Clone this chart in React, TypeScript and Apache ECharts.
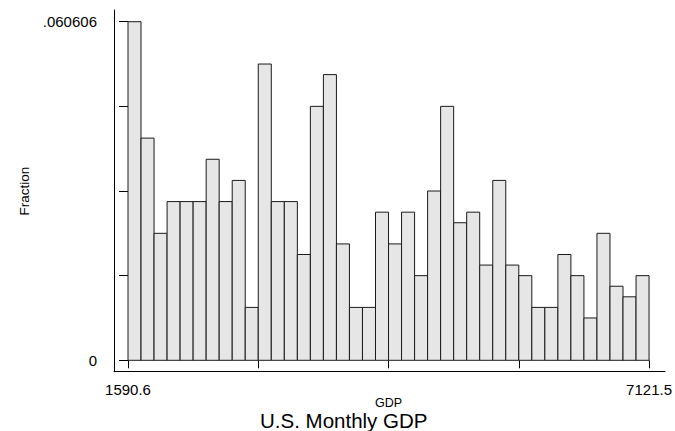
import React, { useEffect, useRef } from "react";
import * as echarts from "echarts";

// Histogram of U.S. monthly GDP: 40 equal-width bins between the endpoints
const binCounts: number[] = [
  32, 21, 12, 15, 15, 15, 19, 15, 17, 5,
  28, 15, 15, 10, 24, 27, 11, 5, 5, 14,
  11, 14, 8, 16, 24, 13, 14, 9, 17, 9,
  8, 5, 5, 10, 8, 4, 12, 7, 6, 8,
];
const totalObs = 528;
const xTickLabels: string[] = ["1590.6", "", "", "", "7121.5"];
const yTickLabels: string[] = ["0", "", "", "", ".060606"];
const titleText = "U.S. Monthly GDP";
const xName = "GDP";
const yName = "Fraction";

const FONT = "'Liberation Sans', Arial, Helvetica, sans-serif";

export default function App() {
  const ref = useRef<HTMLDivElement>(null);
  useEffect(() => {
    if (!ref.current) return;
    const chart = echarts.init(ref.current, undefined, { renderer: "svg" });
    const fractions = binCounts.map((c) => c / totalObs);
    const yMax = Math.max(...binCounts) / totalObs;
    const yInterval = yMax / 4;
    const nBins = binCounts.length;
    const data = fractions.map((f, i) => [i, f]);

    const option: any = {
      animation: false,
      backgroundColor: "#ffffff",
      title: {
        text: titleText,
        left: 260,
        top: 410.5,
        padding: 0,
        textStyle: { fontFamily: FONT, fontSize: 20.5, lineHeight: 19, fontWeight: "normal", color: "#000" },
      },
      grid: [
        { left: 128, right: 23, top: 21.7, bottom: 70.7 },
        { left: 114, right: 10, top: 10, bottom: 59.3 },
      ],
      xAxis: [
        {
          type: "value",
          gridIndex: 0,
          min: 0,
          max: nBins,
          interval: nBins / 4,
          offset: 11.4,
          axisLine: { show: false },
          axisTick: { show: true, length: 8, lineStyle: { color: "#000", width: 1 } },
          splitLine: { show: false },
          axisLabel: {
            margin: 10,
            fontFamily: FONT,
            fontSize: 15,
            color: "#000",
            formatter: (v: number) => xTickLabels[Math.round(v / (nBins / 4))] ?? "",
          },
          name: xName,
          nameLocation: "middle",
          nameGap: 25,
          nameMoveOverlap: false,
          nameTextStyle: { fontFamily: FONT, fontSize: 12.5, lineHeight: 12, color: "#000" },
        },
        {
          type: "value",
          gridIndex: 1,
          min: 0,
          max: 1,
          axisLine: { show: true, lineStyle: { color: "#000", width: 1 } },
          axisTick: { show: false },
          axisLabel: { show: false },
          splitLine: { show: false },
        },
      ],
      yAxis: [
        {
          type: "value",
          gridIndex: 0,
          min: 0,
          max: yMax,
          interval: yInterval,
          offset: 14,
          axisLine: { show: false },
          axisTick: { show: true, length: 9, lineStyle: { color: "#000", width: 1 } },
          splitLine: { show: false },
          axisLabel: {
            margin: 17,
            fontFamily: FONT,
            fontSize: 15,
            color: "#000",
            formatter: (v: number) => yTickLabels[Math.round(v / yInterval)] ?? "",
          },
          name: yName,
          nameLocation: "middle",
          nameRotate: 90,
          nameGap: 83,
          nameMoveOverlap: false,
          nameTextStyle: { fontFamily: FONT, fontSize: 13.5, color: "#000" },
        },
        {
          type: "value",
          gridIndex: 1,
          min: 0,
          max: 1,
          axisLine: { show: true, lineStyle: { color: "#000", width: 1 } },
          axisTick: { show: false },
          axisLabel: { show: false },
          splitLine: { show: false },
        },
      ],
      series: [
        {
          type: "custom",
          xAxisIndex: 0,
          yAxisIndex: 0,
          data,
          renderItem: (params: any, api: any) => {
            const i = api.value(0);
            const v = api.value(1);
            const p0 = api.coord([i, v]);
            const p1 = api.coord([i + 1, 0]);
            return {
              type: "rect",
              shape: { x: p0[0], y: p0[1], width: p1[0] - p0[0], height: p1[1] - p0[1] },
              style: { fill: "#e6e6e6", stroke: "#1a1a1a", lineWidth: 1 },
            };
          },
        },
      ],
    };
    chart.setOption(option);
    return () => chart.dispose();
  }, []);
  return (
    <div
      ref={ref}
      style={{ position: "fixed", left: 0, top: 0, width: 675, height: 431, background: "#fff" }}
    />
  );
}
